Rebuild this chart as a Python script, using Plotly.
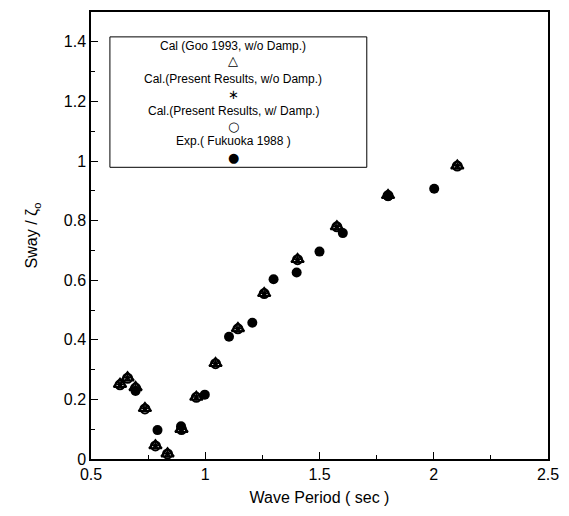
import plotly.graph_objects as go

# Calculated results (three calculations nearly coincide)
x_calc = [0.627, 0.660, 0.695, 0.736, 0.782, 0.835, 0.896, 0.961, 1.045, 1.143, 1.258, 1.404, 1.576, 1.800, 2.103]
y_goo = [0.251, 0.273, 0.240, 0.170, 0.045, 0.018, 0.100, 0.208, 0.321, 0.438, 0.556, 0.670, 0.780, 0.885, 0.984]
y_present_nodamp = [0.251, 0.273, 0.240, 0.170, 0.045, 0.018, 0.100, 0.208, 0.321, 0.438, 0.556, 0.670, 0.780, 0.885, 0.984]
y_present_damp = [0.249, 0.271, 0.238, 0.168, 0.044, 0.017, 0.099, 0.207, 0.320, 0.437, 0.555, 0.669, 0.779, 0.884, 0.983]

# Experiment (Fukuoka 1988)
x_exp = [0.695, 0.791, 0.894, 0.998, 1.104, 1.206, 1.299, 1.400, 1.500, 1.602, 1.800, 2.002]
y_exp = [0.228, 0.097, 0.110, 0.216, 0.410, 0.457, 0.603, 0.626, 0.696, 0.758, 0.882, 0.907]

legend_labels = ["Cal (Goo 1993, w/o Damp.)", "Cal.(Present Results, w/o Damp.)",
                 "Cal.(Present Results, w/ Damp.)", "Exp.( Fukuoka 1988 )"]
legend_symbols = ["△", "∗", "○", "●"]

fig = go.Figure()
fig.add_trace(go.Scatter(x=x_exp, y=y_exp, mode="markers",
                         marker=dict(symbol="circle", size=10, color="black")))
fig.add_trace(go.Scatter(x=x_calc, y=y_goo, mode="markers",
                         marker=dict(symbol="triangle-up-open", size=11, color="black",
                                     line=dict(width=2, color="black"))))
fig.add_trace(go.Scatter(x=x_calc, y=y_present_damp, mode="markers",
                         marker=dict(symbol="circle-open", size=9, color="black",
                                     line=dict(width=2, color="black"))))
fig.add_trace(go.Scatter(x=x_calc, y=y_present_nodamp, mode="markers",
                         marker=dict(symbol="asterisk-open", size=6, color="black",
                                     line=dict(width=1.5, color="black"))))

font = "Liberation Sans, Arial, sans-serif"
sym_font = "DejaVu Sans"

def px(xp):
    return (xp - 91) / 459

def py(yp):
    return (459 - yp) / 449

# Custom legend box
fig.add_shape(type="rect", xref="paper", yref="paper",
              x0=px(110), x1=px(368), y0=py(166), y1=py(35),
              line=dict(color="black", width=1))
text_y = [44, 77, 109, 140]
sym_y = [59, 93, 125, 156]
sym_size = [13, 13, 13, 13]
for lab, sym, ty, sy, ss in zip(legend_labels, legend_symbols, text_y, sym_y, sym_size):
    fig.add_annotation(x=px(234), y=py(ty), xref="paper", yref="paper",
                       xanchor="center", yanchor="middle",
                       text=lab, showarrow=False, font=dict(size=12, family=font, color="black"))
    fig.add_annotation(x=px(234), y=py(sy), xref="paper", yref="paper",
                       xanchor="center", yanchor="middle",
                       text=sym, showarrow=False,
                       font=dict(size=ss, family=sym_font, color="black"))

fig.update_layout(
    width=569, height=516,
    margin=dict(l=91, r=19, t=10, b=57),
    paper_bgcolor="white", plot_bgcolor="white",
    showlegend=False,
    font=dict(family=font, size=16, color="black"),
)
fig.update_xaxes(range=[0.5, 2.5], tickvals=[0.5, 1, 1.5, 2, 2.5],
                 ticktext=["0.5", "1", "1.5", "2", "2.5"],
                 ticks="inside", ticklen=7, tickcolor="black",
                 minor=dict(dtick=0.25, ticks="inside", ticklen=4, tickcolor="black"),
                 showline=True, linecolor="black", linewidth=1.5, mirror=True,
                 showgrid=False, zeroline=False,
                 title=dict(text="Wave Period ( sec )", font=dict(size=16), standoff=10))
fig.update_yaxes(range=[0, 1.5], tickvals=[0, 0.2, 0.4, 0.6, 0.8, 1, 1.2, 1.4],
                 ticktext=["0", "0.2", "0.4", "0.6", "0.8", "1", "1.2", "1.4"],
                 ticks="inside", ticklen=7, tickcolor="black",
                 minor=dict(dtick=0.1, ticks="inside", ticklen=4, tickcolor="black"),
                 showline=True, linecolor="black", linewidth=1.5, mirror=True,
                 showgrid=False, zeroline=False,
                 title=dict(text="Sway / ζ<sub>o</sub>", font=dict(size=16), standoff=22))

fig.write_html("out.html")
